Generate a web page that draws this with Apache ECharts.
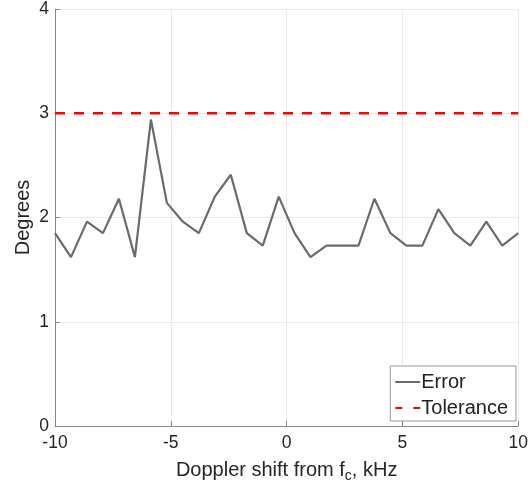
<!DOCTYPE html>
<html>
<head>
<meta charset="utf-8">
<script src="https://cdn.jsdelivr.net/npm/echarts@6/dist/echarts.min.js"></script>
<style>
  html, body { margin: 0; padding: 0; background: #fff; }
  #chart { width: 531px; height: 488px; }
</style>
</head>
<body>
<div id="chart"></div>
<script>
// Doppler shift (kHz) and measured error (degrees)
var shifts = [-10, -9.31, -8.62, -7.93, -7.24, -6.55, -5.86, -5.17, -4.48, -3.79,
              -3.10, -2.41, -1.72, -1.03, -0.34, 0.34, 1.03, 1.72, 2.41, 3.10,
              3.79, 4.48, 5.17, 5.86, 6.55, 7.24, 7.93, 8.62, 9.31, 10];
var errors = [1.85, 1.62, 1.96, 1.85, 2.18, 1.62, 2.94, 2.14, 1.96, 1.85,
              2.20, 2.41, 1.85, 1.73, 2.20, 1.85, 1.62, 1.73, 1.73, 1.73,
              2.18, 1.85, 1.73, 1.73, 2.08, 1.85, 1.73, 1.96, 1.73, 1.85];
var toleranceX = [-10, 10];
var toleranceY = [3, 3];

var font = 'Liberation Sans, Arial, sans-serif';

var chart = echarts.init(document.getElementById('chart'));

var option = {
    animation: false,
    textStyle: { fontFamily: font },
    grid: { left: 55, right: 10, top: 8, bottom: 60 },
    legend: {
        orient: 'vertical',
        right: 15,
        bottom: 67,
        data: [
            { name: 'Error' },
            { name: 'Tolerance', lineStyle: { type: [7, 11] } }
        ],
        itemWidth: 25,
        itemHeight: 14,
        itemGap: 6,
        itemStyle: { opacity: 0 },
        padding: [6, 8, 3, 4],
        backgroundColor: '#fff',
        borderColor: '#999',
        borderWidth: 1,
        textStyle: { fontSize: 20, lineHeight: 19, color: '#222', padding: [0, 0, 0, -4] }
    },
    xAxis: {
        type: 'value',
        min: -10, max: 10, interval: 5,
        name: '{n|Doppler shift from f}{s|c}{n|, kHz}',
        nameLocation: 'middle',
        nameGap: 31,
        nameMoveOverlap: false,
        nameTextStyle: {
            rich: {
                n: { fontSize: 20, color: '#262626', fontFamily: font },
                s: { fontSize: 14, color: '#262626', fontFamily: font, verticalAlign: 'bottom', padding: [12, 0, 0, 0] }
            }
        },
        axisLine: { onZero: false, lineStyle: { color: '#888', width: 1 } },
        axisTick: { inside: true, length: 5, lineStyle: { color: '#888' } },
        axisLabel: { fontSize: 17.5, color: '#262626', margin: 8 },
        splitLine: { show: true, lineStyle: { color: '#ebebeb', width: 1 } }
    },
    yAxis: {
        type: 'value',
        min: 0, max: 4, interval: 1,
        name: 'Degrees',
        nameLocation: 'middle',
        nameGap: 22,
        nameMoveOverlap: false,
        nameTextStyle: { fontSize: 20, color: '#262626' },
        axisLine: { show: true, onZero: false, lineStyle: { color: '#888', width: 1 } },
        axisTick: { show: true, inside: true, length: 5, lineStyle: { color: '#888' } },
        axisLabel: { fontSize: 17.5, color: '#262626', margin: 6 },
        splitLine: { show: true, lineStyle: { color: '#ebebeb', width: 1 } }
    },
    series: [
        {
            name: 'Error',
            type: 'line',
            data: shifts.map(function (x, i) { return [x, errors[i]]; }),
            symbol: 'none',
            color: '#6b6b6b',
            lineStyle: { color: '#6b6b6b', width: 2.2 }
        },
        {
            name: 'Tolerance',
            type: 'line',
            data: toleranceX.map(function (x, i) { return [x, toleranceY[i]]; }),
            symbol: 'none',
            color: '#ff0000',
            lineStyle: { color: '#ff0000', width: 2.5, type: [10, 9] }
        }
    ]
};

chart.setOption(option);
</script>
</body>
</html>
